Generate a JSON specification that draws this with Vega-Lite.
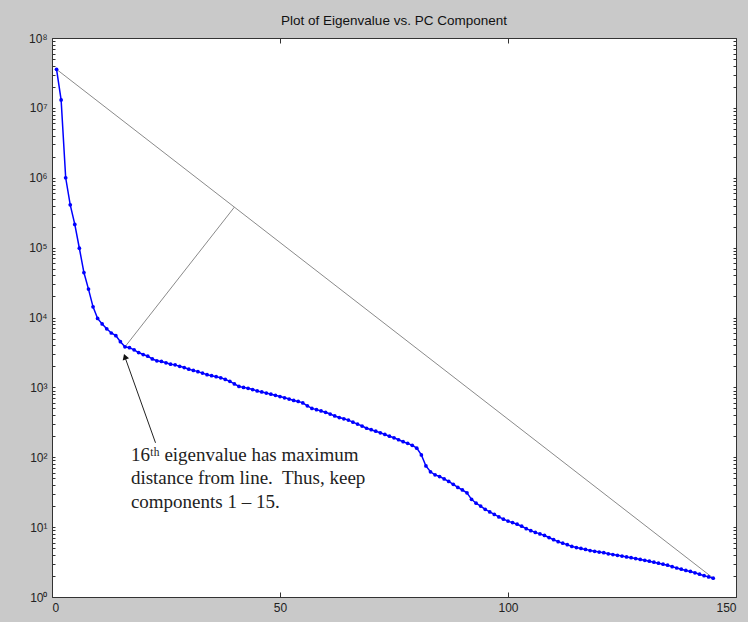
{
  "$schema": "https://vega.github.io/schema/vega-lite/v6.json",
  "width": 684,
  "height": 559,
  "autosize": "none",
  "padding": {"left": 52, "top": 38, "right": 12, "bottom": 25},
  "background": "#c9c9c9",
  "view": {"fill": "white", "stroke": "#333", "strokeWidth": 1},
  "title": {"text": "Plot of Eigenvalue vs. PC Component", "font": "Liberation Sans", "fontSize": 13.5, "fontWeight": "normal", "color": "#111", "offset": 5, "frame": "group", "anchor": "middle"},
  "config": {"axis": {"labelFont": "Liberation Sans", "labelFontSize": 12, "labelColor": "#222", "domain": false, "grid": false, "tickColor": "#333", "title": null}},
  "datasets": {
    "eig": [
      {"pc":1,"v":35600000},{"pc":2,"v":13000000},{"pc":3,"v":1000000},{"pc":4,"v":410000},{"pc":5,"v":215000},
      {"pc":6,"v":98000},{"pc":7,"v":44000},{"pc":8,"v":25500},{"pc":9,"v":14200},{"pc":10,"v":9700},
      {"pc":11,"v":8100},{"pc":12,"v":6900},{"pc":13,"v":6000},{"pc":14,"v":5500},{"pc":15,"v":4500},
      {"pc":16,"v":3800},{"pc":17,"v":3700},{"pc":18,"v":3450},{"pc":19,"v":3150},{"pc":20,"v":2950},
      {"pc":21,"v":2800},{"pc":22,"v":2550},{"pc":23,"v":2400},{"pc":24,"v":2350},{"pc":25,"v":2250},
      {"pc":26,"v":2150},{"pc":27,"v":2100},{"pc":28,"v":2000},{"pc":29,"v":1920},{"pc":30,"v":1820},
      {"pc":31,"v":1750},{"pc":32,"v":1680},{"pc":33,"v":1600},{"pc":34,"v":1520},{"pc":35,"v":1470},
      {"pc":36,"v":1420},{"pc":37,"v":1370},{"pc":38,"v":1300},{"pc":39,"v":1220},{"pc":40,"v":1120},
      {"pc":41,"v":1030},{"pc":42,"v":1000},{"pc":43,"v":970},{"pc":44,"v":930},{"pc":45,"v":890},
      {"pc":46,"v":860},{"pc":47,"v":830},{"pc":48,"v":800},{"pc":49,"v":770},{"pc":50,"v":740},
      {"pc":51,"v":710},{"pc":52,"v":680},{"pc":53,"v":650},{"pc":54,"v":630},{"pc":55,"v":600},
      {"pc":56,"v":545},{"pc":57,"v":500},{"pc":58,"v":480},{"pc":59,"v":460},{"pc":60,"v":440},
      {"pc":61,"v":415},{"pc":62,"v":390},{"pc":63,"v":370},{"pc":64,"v":355},{"pc":65,"v":340},
      {"pc":66,"v":318},{"pc":67,"v":298},{"pc":68,"v":280},{"pc":69,"v":260},{"pc":70,"v":248},
      {"pc":71,"v":236},{"pc":72,"v":224},{"pc":73,"v":212},{"pc":74,"v":200},{"pc":75,"v":190},
      {"pc":76,"v":178},{"pc":77,"v":167},{"pc":78,"v":158},{"pc":79,"v":148},{"pc":80,"v":135},
      {"pc":81,"v":108},{"pc":82,"v":75},{"pc":83,"v":62},{"pc":84,"v":56},{"pc":85,"v":53},
      {"pc":86,"v":49},{"pc":87,"v":45},{"pc":88,"v":41},{"pc":89,"v":37},{"pc":90,"v":34},
      {"pc":91,"v":31},{"pc":92,"v":25},{"pc":93,"v":22},{"pc":94,"v":20},{"pc":95,"v":18},
      {"pc":96,"v":16.5},{"pc":97,"v":15.2},{"pc":98,"v":14},{"pc":99,"v":13},{"pc":100,"v":12.2},
      {"pc":101,"v":11.6},{"pc":102,"v":11},{"pc":103,"v":10.3},{"pc":104,"v":9.5},{"pc":105,"v":8.9},
      {"pc":106,"v":8.4},{"pc":107,"v":8},{"pc":108,"v":7.6},{"pc":109,"v":7.1},{"pc":110,"v":6.6},
      {"pc":111,"v":6.2},{"pc":112,"v":5.9},{"pc":113,"v":5.6},{"pc":114,"v":5.3},{"pc":115,"v":5.1},
      {"pc":116,"v":4.95},{"pc":117,"v":4.8},{"pc":118,"v":4.62},{"pc":119,"v":4.5},{"pc":120,"v":4.4},
      {"pc":121,"v":4.3},{"pc":122,"v":4.15},{"pc":123,"v":4.05},{"pc":124,"v":3.95},{"pc":125,"v":3.85},
      {"pc":126,"v":3.75},{"pc":127,"v":3.65},{"pc":128,"v":3.55},{"pc":129,"v":3.45},{"pc":130,"v":3.35},
      {"pc":131,"v":3.25},{"pc":132,"v":3.15},{"pc":133,"v":3.05},{"pc":134,"v":2.95},{"pc":135,"v":2.85},
      {"pc":136,"v":2.72},{"pc":137,"v":2.6},{"pc":138,"v":2.5},{"pc":139,"v":2.4},{"pc":140,"v":2.32},
      {"pc":141,"v":2.22},{"pc":142,"v":2.12},{"pc":143,"v":2.02},{"pc":144,"v":1.94},{"pc":145,"v":1.86}
    ],
    "chord": [{"pc":1,"v":35600000},{"pc":145,"v":1.86}],
    "perp": [{"pc":16,"v":3800},{"pc":40,"v":380000}],
    "arrow": [{"pc":22.7,"v":161},{"pc":16.1,"v":2600}],
    "head": [{"pc":16.0,"v":2750}],
    "note": [{"pc":17.3,"v":89,"label":"16ᵗʰ eigenvalue has maximum\ndistance from line.\u00a0 Thus, keep\ncomponents 1 – 15."}]
  },
  "resolve": {"axis": {"x": "independent", "y": "independent"}},
  "layer": [
    {
      "data": {"name": "chord"},
      "mark": {"type": "line", "color": "#8a8a8a", "strokeWidth": 1},
      "encoding": {
        "x": {"field": "pc", "type": "quantitative", "scale": {"domain": [0, 150], "nice": false}, "axis": {"orient": "top", "values": [0, 50, 100, 150], "labels": false, "tickSize": -5}},
        "y": {"field": "v", "type": "quantitative", "scale": {"type": "log", "domain": [1, 100000000], "nice": false}, "axis": {"orient": "right", "labels": false, "tickSize": -3, "values": [1,2,3,4,5,6,7,8,9,10,20,30,40,50,60,70,80,90,100,200,300,400,500,600,700,800,900,1000,2000,3000,4000,5000,6000,7000,8000,9000,10000,20000,30000,40000,50000,60000,70000,80000,90000,100000,200000,300000,400000,500000,600000,700000,800000,900000,1000000,2000000,3000000,4000000,5000000,6000000,7000000,8000000,9000000,10000000,20000000,30000000,40000000,50000000,60000000,70000000,80000000,90000000,100000000]}}
      }
    },
    {
      "data": {"name": "perp"},
      "mark": {"type": "line", "color": "#8a8a8a", "strokeWidth": 1},
      "encoding": {
        "x": {"field": "pc", "type": "quantitative", "axis": null},
        "y": {"field": "v", "type": "quantitative", "axis": null}
      }
    },
    {
      "data": {"name": "eig"},
      "mark": {"type": "line", "color": "#0000ff", "strokeWidth": 1.5, "point": {"filled": true, "size": 14, "color": "#0000ff"}},
      "encoding": {
        "x": {"field": "pc", "type": "quantitative", "axis": {"orient": "bottom", "values": [0, 50, 100, 150], "tickSize": -5, "labelPadding": 10}},
        "y": {"field": "v", "type": "quantitative", "axis": {"orient": "left", "tickSize": -3, "labelPadding": 8, "values": [1,2,3,4,5,6,7,8,9,10,20,30,40,50,60,70,80,90,100,200,300,400,500,600,700,800,900,1000,2000,3000,4000,5000,6000,7000,8000,9000,10000,20000,30000,40000,50000,60000,70000,80000,90000,100000,200000,300000,400000,500000,600000,700000,800000,900000,1000000,2000000,3000000,4000000,5000000,6000000,7000000,8000000,9000000,10000000,20000000,30000000,40000000,50000000,60000000,70000000,80000000,90000000,100000000],
          "labelExpr": "abs(log(datum.value)/LN10 - round(log(datum.value)/LN10)) < 0.000001 ? '10' + ['⁰','¹','²','³','⁴','⁵','⁶','⁷','⁸'][round(log(datum.value)/LN10)] : ''"}}
      }
    },
    {
      "data": {"name": "arrow"},
      "mark": {"type": "line", "color": "#222", "strokeWidth": 1},
      "encoding": {
        "x": {"field": "pc", "type": "quantitative", "axis": null},
        "y": {"field": "v", "type": "quantitative", "axis": null}
      }
    },
    {
      "data": {"name": "head"},
      "mark": {"type": "point", "shape": "triangle-up", "filled": true, "color": "#111", "size": 45, "angle": 341, "opacity": 1},
      "encoding": {
        "x": {"field": "pc", "type": "quantitative", "axis": null},
        "y": {"field": "v", "type": "quantitative", "axis": null}
      }
    },
    {
      "data": {"name": "note"},
      "mark": {"type": "text", "align": "left", "baseline": "alphabetic", "lineBreak": "\n", "lineHeight": 23.5, "font": "Liberation Serif", "fontSize": 19, "color": "#222"},
      "encoding": {
        "x": {"field": "pc", "type": "quantitative", "axis": null},
        "y": {"field": "v", "type": "quantitative", "axis": null},
        "text": {"field": "label"}
      }
    }
  ]
}
